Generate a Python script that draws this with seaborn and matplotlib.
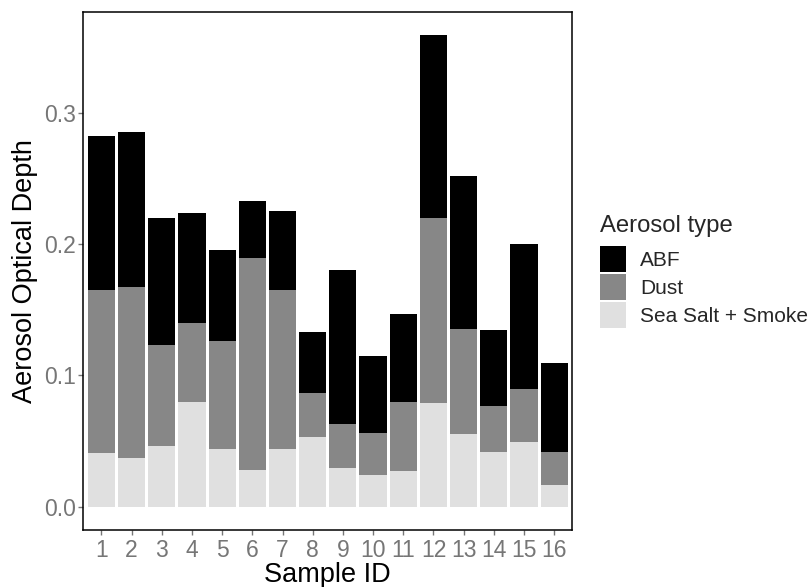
import matplotlib
matplotlib.use("Agg")
import matplotlib.pyplot as plt
import seaborn as sns
import numpy as np
import pandas as pd

sample_ids = [str(i) for i in range(1, 17)]
sea_salt_smoke = [0.0405, 0.0368, 0.0462, 0.0801, 0.0436, 0.0276, 0.0436, 0.0527,
                  0.0293, 0.0245, 0.0268, 0.0786, 0.0550, 0.0413, 0.0490, 0.0168]
dust = [0.1247, 0.1302, 0.0766, 0.0595, 0.0829, 0.1616, 0.1216, 0.0336,
        0.0339, 0.0313, 0.0527, 0.1416, 0.0806, 0.0356, 0.0410, 0.0245]
abf = [0.1174, 0.1185, 0.0974, 0.0843, 0.0692, 0.0438, 0.0602, 0.0470,
       0.1169, 0.0593, 0.0675, 0.1393, 0.1165, 0.0573, 0.1103, 0.0684]
y_ticks = [0.0, 0.1, 0.2, 0.3]

sns.set_theme(style="white")
plt.rcParams['font.family'] = ['Liberation Sans', 'DejaVu Sans']

df = pd.DataFrame({"Sample": sample_ids, "Salt": sea_salt_smoke, "Dust": dust, "ABF": abf})
df["cum_salt"] = df["Salt"]
df["cum_dust"] = df["Salt"] + df["Dust"]
df["cum_abf"] = df["Salt"] + df["Dust"] + df["ABF"]

fig = plt.figure(figsize=(8.1, 5.87), dpi=100)
ax = fig.add_axes([83.3 / 810, 1 - 530.3 / 587, (572.3 - 83.3) / 810, (530.3 - 11.7) / 587])

layers = [("cum_abf", "#000000", "ABF"),
          ("cum_dust", "#878787", "Dust"),
          ("cum_salt", "#E0E0E0", "Sea Salt + Smoke")]
for col, colr, lab in layers:
    sns.barplot(data=df, x="Sample", y=col, color=colr, saturation=1, width=0.9,
                ax=ax, label=lab, linewidth=0, errorbar=None)

ax.set_xlim(-0.6, 15.6)
ax.set_ylim(-0.0180, 0.3770)
ax.set_yticks(y_ticks)
ax.set_yticklabels([f"{v:.1f}" for v in y_ticks])
ax.set_xlabel("Sample ID", fontsize=19.5, color="black", labelpad=0.5)
ax.set_ylabel("Aerosol Optical Depth", fontsize=19.5, color="black", labelpad=5)
ax.tick_params(axis="both", which="major", labelsize=16.5, colors="#767676",
               length=3.5, width=1.0, pad=1.5, bottom=True, left=True)
ax.tick_params(axis="x", pad=2.5)
for s in ax.spines.values():
    s.set_color("black")
    s.set_linewidth(1.1)
    s.set_visible(True)

leg = ax.legend(loc="upper left", bbox_to_anchor=(600 / 810, 1 - 215 / 587),
                bbox_transform=fig.transFigure, frameon=False, title="Aerosol type",
                fontsize=15, title_fontsize=17.2, alignment="left",
                handlelength=1.25, handleheight=1.546, labelspacing=0.1,
                handletextpad=0.67, borderpad=0, borderaxespad=0)
leg._legend_box.sep = leg._legend_box.sep + 5

fig.savefig("out.png", dpi=100)
